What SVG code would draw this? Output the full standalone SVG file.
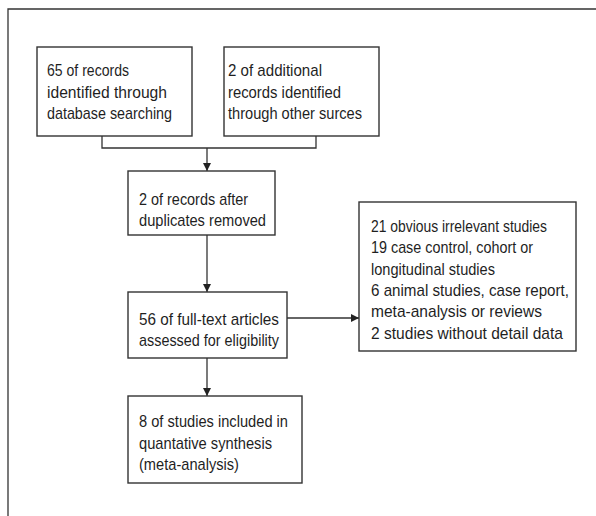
<svg xmlns="http://www.w3.org/2000/svg" width="596" height="516" viewBox="0 0 596 516">
<style>
.box{fill:#fff;stroke:#333;stroke-width:1.4}
.ln{fill:none;stroke:#333;stroke-width:1.3}
text{font-family:"Liberation Sans Narrow","Liberation Sans",Arial,sans-serif;font-size:17px;fill:#1f1f1f}
</style>
<defs>
<marker id="ah" viewBox="0 0 10 10" refX="10" refY="5" markerWidth="8" markerHeight="8" markerUnits="userSpaceOnUse" orient="auto">
<path d="M0,0 L10,5 L0,10 Z" fill="#222"/>
</marker>
</defs>
<rect width="596" height="516" fill="#fff"/>
<path class="ln" d="M8,516 V9 H596"/>
<g id="connectors">
<path class="ln" d="M102,136 V148 H316 V136"/>
<path class="ln" d="M207,148 V171" marker-end="url(#ah)"/>
<path class="ln" d="M207,235 V292" marker-end="url(#ah)"/>
<path class="ln" d="M207,358 V396" marker-end="url(#ah)"/>
<path class="ln" d="M287,318 H359" marker-end="url(#ah)"/>
</g>
<g id="n1">
<rect class="box" x="37" y="47" width="155" height="89"/>
<text x="47" y="76" textLength="82" lengthAdjust="spacingAndGlyphs">65 of records</text>
<text x="47" y="98" textLength="120" lengthAdjust="spacingAndGlyphs">identified through</text>
<text x="47" y="119" textLength="125" lengthAdjust="spacingAndGlyphs">database searching</text>
</g>
<g id="n2">
<rect class="box" x="224" y="47" width="155" height="89"/>
<text x="228" y="76" textLength="94" lengthAdjust="spacingAndGlyphs">2 of additional</text>
<text x="228" y="98" textLength="113" lengthAdjust="spacingAndGlyphs">records identified</text>
<text x="228" y="119" textLength="134" lengthAdjust="spacingAndGlyphs">through other surces</text>
</g>
<g id="n3">
<rect class="box" x="128" y="171" width="147" height="64"/>
<text x="139" y="205" textLength="109" lengthAdjust="spacingAndGlyphs">2 of records after</text>
<text x="139" y="226" textLength="127" lengthAdjust="spacingAndGlyphs">duplicates removed</text>
</g>
<g id="n4">
<rect class="box" x="128" y="292" width="159" height="66"/>
<text x="139" y="325" textLength="140" lengthAdjust="spacingAndGlyphs">56 of full-text articles</text>
<text x="139" y="346" textLength="140" lengthAdjust="spacingAndGlyphs">assessed for eligibility</text>
</g>
<g id="n5">
<rect class="box" x="128" y="396" width="174" height="87"/>
<text x="139" y="427" textLength="149" lengthAdjust="spacingAndGlyphs">8 of studies included in</text>
<text x="139" y="449" textLength="133" lengthAdjust="spacingAndGlyphs">quantative synthesis</text>
<text x="139" y="470" textLength="100" lengthAdjust="spacingAndGlyphs">(meta-analysis)</text>
</g>
<g id="n6">
<rect class="box" x="359" y="202" width="217" height="149"/>
<text x="371" y="232" textLength="176" lengthAdjust="spacingAndGlyphs">21 obvious irrelevant studies</text>
<text x="371" y="253" textLength="162" lengthAdjust="spacingAndGlyphs">19 case control, cohort or</text>
<text x="371" y="275" textLength="124" lengthAdjust="spacingAndGlyphs">longitudinal studies</text>
<text x="371" y="296" textLength="198" lengthAdjust="spacingAndGlyphs">6 animal studies, case report,</text>
<text x="371" y="317" textLength="171" lengthAdjust="spacingAndGlyphs">meta-analysis or reviews</text>
<text x="371" y="339" textLength="192" lengthAdjust="spacingAndGlyphs">2 studies without detail data</text>
</g>
</svg>
